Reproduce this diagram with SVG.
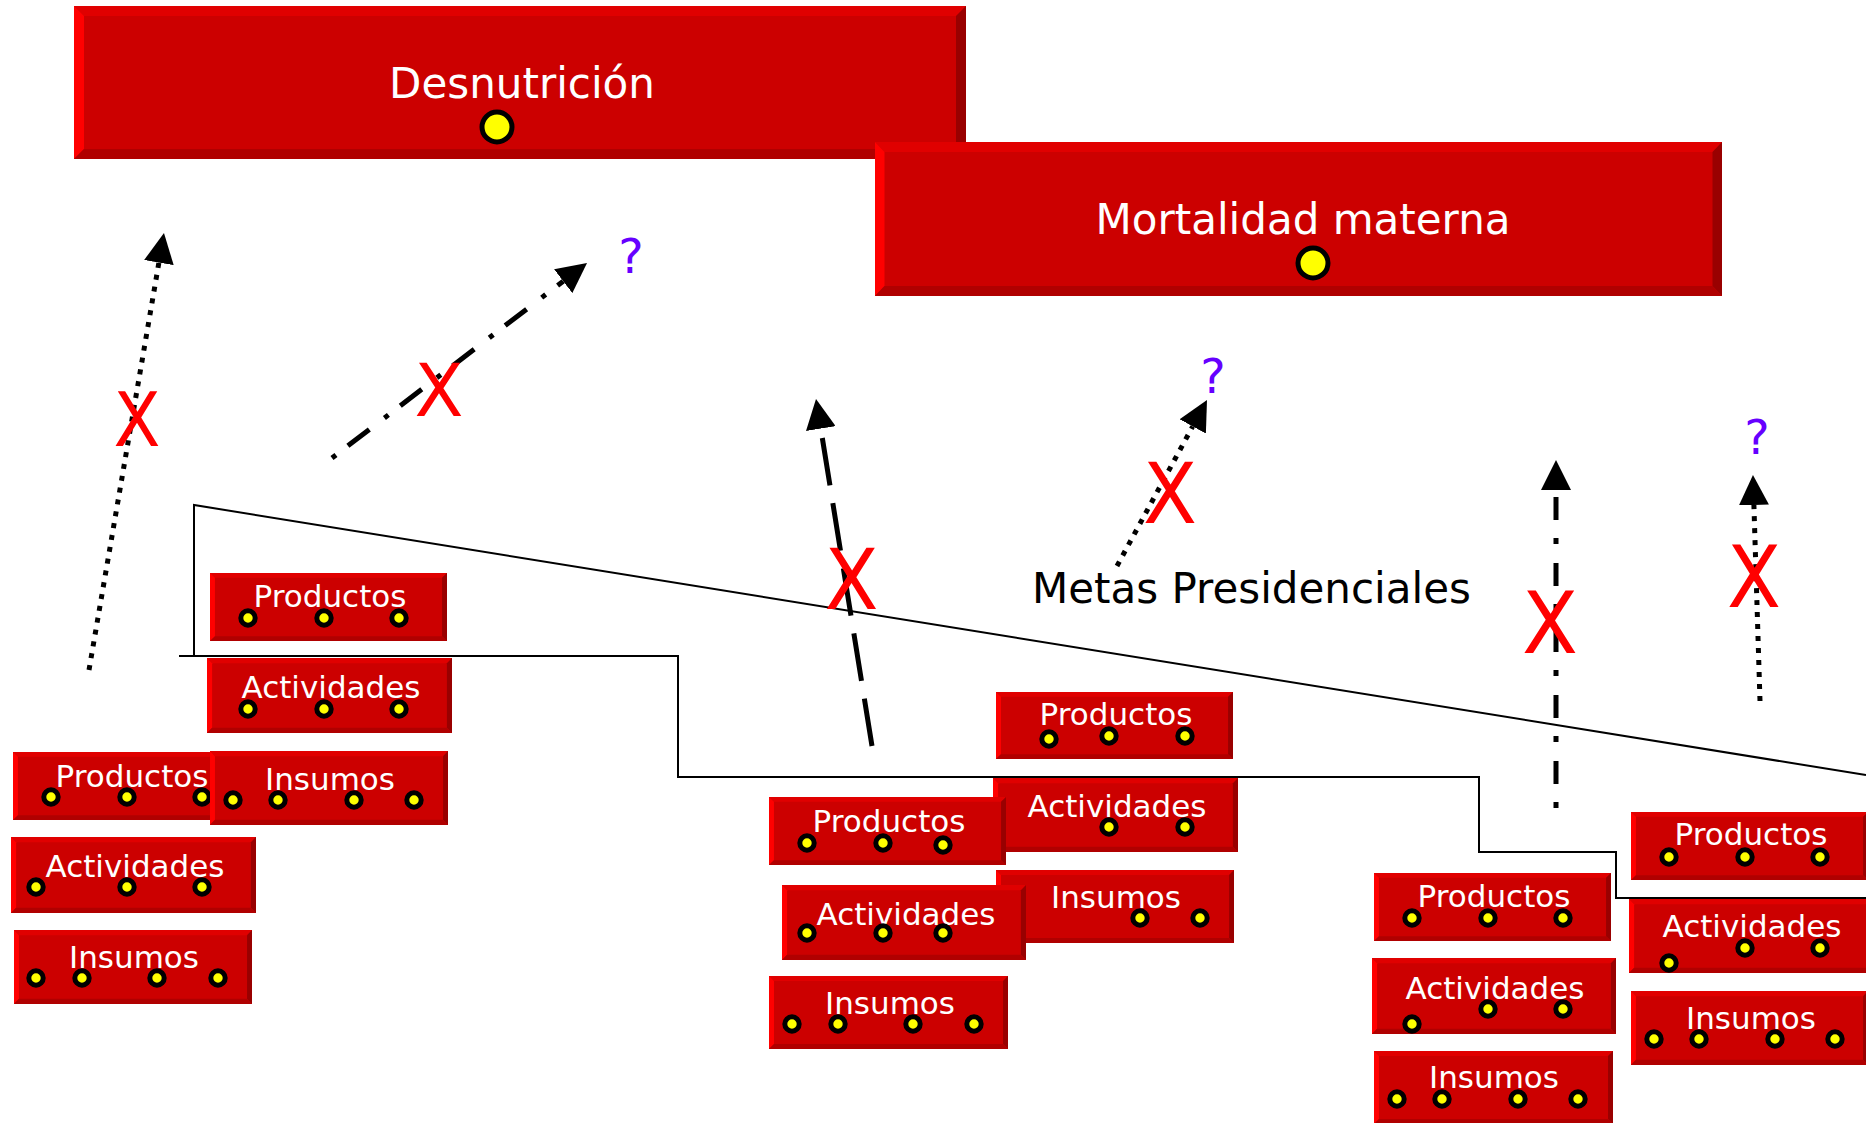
<svg xmlns="http://www.w3.org/2000/svg" xmlns:xlink="http://www.w3.org/1999/xlink" width="1866" height="1123" viewBox="0 0 1866 1123">
<style>
text{font-family:"DejaVu Sans","Liberation Sans",sans-serif}
.big{font-size:42px;fill:#fff;text-anchor:middle}
.lbl{font-size:31px;fill:#fff;text-anchor:middle}
.bdot{fill:#FFFF00;stroke:#000;stroke-width:5}
.dot{fill:#FFFF00;stroke:#000;stroke-width:5}
.frame{fill:none;stroke:#000;stroke-width:2}
.arr{fill:none;stroke:#000;stroke-width:5}
.x{fill:#FF0000;text-anchor:middle}
.q{font-size:48px;fill:#6600FF;text-anchor:middle}
.metas{font-size:42px;fill:#000}
</style>
<defs>
<symbol id="bigbox" viewBox="0 0 892 153" preserveAspectRatio="none">
<rect width="892" height="153" fill="#CC0000"/>
<polygon points="0,0 892,0 882,10 10,10" fill="#E00000"/>
<polygon points="0,0 10,10 10,143 0,153" fill="#FF0000"/>
<polygon points="892,0 892,153 882,143 882,10" fill="#990000"/>
<polygon points="0,153 10,143 882,143 892,153" fill="#B00000"/>
</symbol>
<symbol id="sbox" viewBox="0 0 240 72" preserveAspectRatio="none">
<rect width="240" height="72" fill="#CC0000"/>
<polygon points="0,0 240,0 235,5 5,5" fill="#E00000"/>
<polygon points="0,0 5,5 5,67 0,72" fill="#FF0000"/>
<polygon points="240,0 240,72 235,67 235,5" fill="#990000"/>
<polygon points="0,72 5,67 235,67 240,72" fill="#B00000"/>
</symbol>
<marker id="head" markerUnits="userSpaceOnUse" markerWidth="30" markerHeight="30" viewBox="0 0 30 30" refX="0" refY="15" orient="auto">
<path d="M0,0 L30,15 L0,30 z" fill="#000"/>
</marker>
</defs>
<rect width="1866" height="1123" fill="#fff"/>

<g id="frame">
<path class="frame" d="M194,656 L194,505 L1866,775"/>
<path class="frame" d="M179,656 L678,656 L678,777 L1479,777 L1479,852 L1616,852 L1616,898 L1866,898"/>
</g>

<g id="connectors">
<path class="arr" d="M89,670 L158.9,262.6" stroke-dasharray="5 7" marker-end="url(#head)"/>
<path class="arr" d="M332,458 L563.2,281.2" stroke-dasharray="5 15 27 19" marker-end="url(#head)"/>
<path class="arr" d="M872,746 L820.8,428.6" stroke-dasharray="48 18" marker-end="url(#head)"/>
<path class="arr" d="M1117,566 L1192.7,426.4" stroke-dasharray="5 7" marker-end="url(#head)"/>
<path class="arr" d="M1556,808 L1556,490" stroke-width="6" stroke-dasharray="6 18 23 19" marker-end="url(#head)"/>
<path class="arr" d="M1760,701 L1753.9,505" stroke-dasharray="5 7" marker-end="url(#head)"/>
</g>

<g id="marks">
<text class="x" x="137" y="446" font-size="74" textLength="47" lengthAdjust="spacingAndGlyphs">X</text>
<text class="x" x="439" y="416" font-size="73" textLength="49" lengthAdjust="spacingAndGlyphs">X</text>
<text class="x" x="851.5" y="609" font-size="84" textLength="54" lengthAdjust="spacingAndGlyphs">X</text>
<text class="x" x="1170" y="523" font-size="84" textLength="54" lengthAdjust="spacingAndGlyphs">X</text>
<text class="x" x="1550" y="653" font-size="86" textLength="56" lengthAdjust="spacingAndGlyphs">X</text>
<text class="x" x="1754" y="607" font-size="85" textLength="54" lengthAdjust="spacingAndGlyphs">X</text>
<text class="q" x="631" y="273">?</text>
<text class="q" x="1213" y="393">?</text>
<text class="q" x="1757" y="454">?</text>
</g>

<g id="metas">
<text class="metas" x="1032" y="603">Metas Presidenciales</text>
</g>

<g id="n-desnutricion">
<use xlink:href="#bigbox" href="#bigbox" x="74" y="6" width="892" height="153"/>
<text class="big" x="522" y="98">Desnutrición</text>
<circle class="bdot" cx="497" cy="127" r="15"/>
</g>
<g id="n-mortalidad">
<use xlink:href="#bigbox" href="#bigbox" x="875" y="142" width="847" height="154"/>
<text class="big" x="1303" y="234">Mortalidad materna</text>
<circle class="bdot" cx="1313" cy="263" r="15"/>
</g>

<!-- left group -->
<g id="n-productos-2">
<use href="#sbox" x="13" y="752" width="237" height="68"/>
<text class="lbl" x="132" y="787">Productos</text>
<circle class="dot" cx="51" cy="797" r="7.2"/><circle class="dot" cx="127" cy="797" r="7.2"/><circle class="dot" cx="202" cy="797" r="7.2"/>
</g>
<g id="n-actividades-2">
<use href="#sbox" x="11" y="837" width="245" height="76"/>
<text class="lbl" x="135" y="877">Actividades</text>
<circle class="dot" cx="36" cy="887" r="7.2"/><circle class="dot" cx="127" cy="887" r="7.2"/><circle class="dot" cx="202" cy="887" r="7.2"/>
</g>
<g id="n-insumos-2">
<use href="#sbox" x="14" y="930" width="238" height="74"/>
<text class="lbl" x="134" y="968">Insumos</text>
<circle class="dot" cx="36" cy="978" r="7.2"/><circle class="dot" cx="82" cy="978" r="7.2"/><circle class="dot" cx="157" cy="978" r="7.2"/><circle class="dot" cx="218" cy="978" r="7.2"/>
</g>

<!-- upper-left group -->
<g id="n-productos-1">
<use href="#sbox" x="210" y="573" width="237" height="68"/>
<text class="lbl" x="330" y="607">Productos</text>
<circle class="dot" cx="248" cy="618" r="7.2"/><circle class="dot" cx="324" cy="618" r="7.2"/><circle class="dot" cx="399" cy="618" r="7.2"/>
</g>
<g id="n-actividades-1">
<use href="#sbox" x="207" y="658" width="245" height="75"/>
<text class="lbl" x="331" y="698">Actividades</text>
<circle class="dot" cx="248" cy="709" r="7.2"/><circle class="dot" cx="324" cy="709" r="7.2"/><circle class="dot" cx="399" cy="709" r="7.2"/>
</g>
<g id="n-insumos-1">
<use href="#sbox" x="210" y="751" width="238" height="74"/>
<text class="lbl" x="330" y="790">Insumos</text>
<circle class="dot" cx="233" cy="800" r="7.2"/><circle class="dot" cx="278" cy="800" r="7.2"/><circle class="dot" cx="354" cy="800" r="7.2"/><circle class="dot" cx="414" cy="800" r="7.2"/>
</g>

<!-- middle groups -->
<g id="n-productos-3">
<use href="#sbox" x="996" y="692" width="237" height="67"/>
<text class="lbl" x="1116" y="725">Productos</text>
<circle class="dot" cx="1049" cy="739" r="7.2"/><circle class="dot" cx="1109" cy="736" r="7.2"/><circle class="dot" cx="1185" cy="736" r="7.2"/>
</g>
<g id="n-actividades-3">
<use href="#sbox" x="993" y="778" width="245" height="74"/>
<text class="lbl" x="1117" y="817">Actividades</text>
<circle class="dot" cx="1109" cy="827" r="7.2"/><circle class="dot" cx="1185" cy="827" r="7.2"/>
</g>
<g id="n-insumos-3">
<use href="#sbox" x="996" y="870" width="238" height="73"/>
<text class="lbl" x="1116" y="908">Insumos</text>
<circle class="dot" cx="1140" cy="918" r="7.2"/><circle class="dot" cx="1200" cy="918" r="7.2"/>
</g>
<g id="n-productos-4">
<use href="#sbox" x="769" y="797" width="237" height="68"/>
<text class="lbl" x="889" y="832">Productos</text>
<circle class="dot" cx="807" cy="843" r="7.2"/><circle class="dot" cx="883" cy="843" r="7.2"/><circle class="dot" cx="943" cy="845" r="7.2"/>
</g>
<g id="n-actividades-4">
<use href="#sbox" x="782" y="885" width="244" height="75"/>
<text class="lbl" x="906" y="925">Actividades</text>
<circle class="dot" cx="807" cy="933" r="7.2"/><circle class="dot" cx="883" cy="933" r="7.2"/><circle class="dot" cx="943" cy="933" r="7.2"/>
</g>
<g id="n-insumos-4">
<use href="#sbox" x="769" y="976" width="239" height="73"/>
<text class="lbl" x="890" y="1014">Insumos</text>
<circle class="dot" cx="792" cy="1024" r="7.2"/><circle class="dot" cx="838" cy="1024" r="7.2"/><circle class="dot" cx="913" cy="1024" r="7.2"/><circle class="dot" cx="974" cy="1024" r="7.2"/>
</g>

<!-- right groups -->
<g id="n-productos-6">
<use href="#sbox" x="1374" y="873" width="237" height="68"/>
<text class="lbl" x="1494" y="907">Productos</text>
<circle class="dot" cx="1412" cy="918" r="7.2"/><circle class="dot" cx="1488" cy="918" r="7.2"/><circle class="dot" cx="1563" cy="918" r="7.2"/>
</g>
<g id="n-actividades-6">
<use href="#sbox" x="1372" y="958" width="244" height="76"/>
<text class="lbl" x="1495" y="999">Actividades</text>
<circle class="dot" cx="1412" cy="1024" r="7.2"/><circle class="dot" cx="1488" cy="1009" r="7.2"/><circle class="dot" cx="1563" cy="1009" r="7.2"/>
</g>
<g id="n-insumos-6">
<use href="#sbox" x="1374" y="1051" width="239" height="73"/>
<text class="lbl" x="1494" y="1088">Insumos</text>
<circle class="dot" cx="1397" cy="1099" r="7.2"/><circle class="dot" cx="1442" cy="1099" r="7.2"/><circle class="dot" cx="1518" cy="1099" r="7.2"/><circle class="dot" cx="1578" cy="1099" r="7.2"/>
</g>
<g id="n-productos-5">
<use href="#sbox" x="1631" y="812" width="237" height="68"/>
<text class="lbl" x="1751" y="845">Productos</text>
<circle class="dot" cx="1669" cy="857" r="7.2"/><circle class="dot" cx="1745" cy="857" r="7.2"/><circle class="dot" cx="1820" cy="857" r="7.2"/>
</g>
<g id="n-actividades-5">
<use href="#sbox" x="1629" y="899" width="245" height="74"/>
<text class="lbl" x="1752" y="937">Actividades</text>
<circle class="dot" cx="1669" cy="963" r="7.2"/><circle class="dot" cx="1745" cy="948" r="7.2"/><circle class="dot" cx="1820" cy="948" r="7.2"/>
</g>
<g id="n-insumos-5">
<use href="#sbox" x="1631" y="991" width="237" height="74"/>
<text class="lbl" x="1751" y="1029">Insumos</text>
<circle class="dot" cx="1654" cy="1039" r="7.2"/><circle class="dot" cx="1699" cy="1039" r="7.2"/><circle class="dot" cx="1775" cy="1039" r="7.2"/><circle class="dot" cx="1835" cy="1039" r="7.2"/>
</g>
</svg>
